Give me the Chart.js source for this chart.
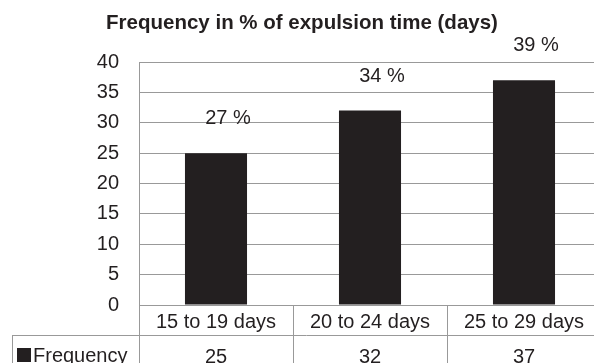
<!DOCTYPE html>
<html lang="en">
<head>
  <meta charset="UTF-8">
  <title>Frequency in % of expulsion time</title>
  <style>
    html, body { margin: 0; background: #fff; overflow: hidden; }
    /* the original chart runs a few px past the right edge of the picture */
    .wrap { width: 601px; height: 363px; }
  </style>
</head>
<body>
  <div class="wrap">
    <canvas id="chart1"></canvas>
  </div>

  <script src="https://cdn.jsdelivr.net/npm/chart.js@4/dist/chart.umd.min.js"></script>
  <script>
    // data
    const categories = ["15 to 19 days", "20 to 24 days", "25 to 29 days"];
    const frequency = [25, 32, 37];
    const pctLabels = ["27 %", "34 %", "39 %"];
    const seriesName = "Frequency";
    const chartTitle = "Frequency in % of expulsion time (days)";
    const yMax = 40;
    const yStep = 5;

    const FONT = "'Liberation Sans', Arial, sans-serif";
    const INK = "#231f20";
    const LINE = "#999";

    // title, labels above bars
    const labelsPlugin = {
      id: "labelsPlugin",
      afterDatasetsDraw(chart) {
        const ctx = chart.ctx;
        ctx.save();
        ctx.fillStyle = INK;
        ctx.font = "bold 20.5px " + FONT;
        ctx.textAlign = "center";
        ctx.textBaseline = "alphabetic";
        ctx.fillText(chartTitle, 302, 29);

        ctx.font = "20px " + FONT;
        const meta = chart.getDatasetMeta(0);
        meta.data.forEach((bar, i) => {
          ctx.fillText(pctLabels[i], bar.x + 12, bar.y - 29);
        });
        ctx.restore();
      }
    };

    // data table under the plot
    const tablePlugin = {
      id: "tablePlugin",
      afterDraw(chart) {
        const ctx = chart.ctx;
        const area = chart.chartArea;
        const xs = chart.scales.x;
        const n = categories.length;
        const colW = (area.right - area.left) / n;
        const rowTop = area.bottom;
        const rowMid = area.bottom + 30;
        const rowBot = chart.height + 2;

        ctx.save();
        ctx.strokeStyle = LINE;
        ctx.lineWidth = 1;
        ctx.beginPath();
        // horizontal lines
        ctx.moveTo(area.left, rowTop + 0.5);
        ctx.lineTo(area.right, rowTop + 0.5);
        ctx.moveTo(12, rowMid + 0.5);
        ctx.lineTo(area.right, rowMid + 0.5);
        // vertical lines
        ctx.moveTo(12.5, rowMid);
        ctx.lineTo(12.5, rowBot);
        for (let i = 0; i <= n; i++) {
          const x = Math.round(area.left + i * colW) + 0.5;
          ctx.moveTo(x, rowTop);
          ctx.lineTo(x, rowBot);
        }
        ctx.stroke();

        ctx.fillStyle = INK;
        ctx.font = "20px " + FONT;
        ctx.textAlign = "center";
        ctx.textBaseline = "alphabetic";
        for (let i = 0; i < n; i++) {
          const cx = xs.getPixelForValue(i);
          ctx.fillText(categories[i], cx, rowTop + 23);
          ctx.fillText(String(frequency[i]), cx, rowMid + 28);
        }

        // legend key
        ctx.fillRect(17, rowMid + 13, 14, 14);
        ctx.textAlign = "left";
        ctx.fillText(seriesName, 33, rowMid + 27);
        ctx.restore();
      }
    };

    new Chart(document.getElementById("chart1"), {
      type: "bar",
      data: {
        labels: categories,
        datasets: [
          {
            label: seriesName,
            data: frequency,
            backgroundColor: INK,
            borderWidth: 0,
            categoryPercentage: 1,
            barPercentage: 0.403,
          },
        ],
      },
      options: {
        responsive: true,
        maintainAspectRatio: false,
        animation: false,
        layout: {
          padding: { top: 62, right: 0, bottom: 58, left: 0 }
        },
        plugins: {
          legend: { display: false },
          title: { display: false },
          tooltip: { enabled: false }
        },
        scales: {
          x: {
            display: false
          },
          y: {
            min: 0,
            max: yMax,
            afterFit(scale) {
              scale.width = 139;
            },
            ticks: {
              stepSize: yStep,
              padding: 20,
              color: INK,
              font: { family: FONT, size: 20 }
            },
            grid: {
              color: LINE,
              lineWidth: 1,
              drawTicks: false
            },
            border: {
              display: true,
              color: LINE
            }
          }
        }
      },
      plugins: [labelsPlugin, tablePlugin]
    });
  </script>
</body>
</html>
